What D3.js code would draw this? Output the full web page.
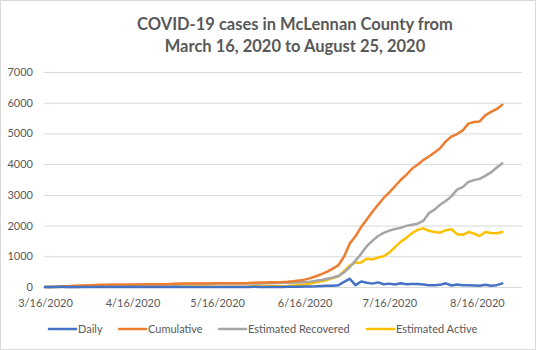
<!DOCTYPE html>
<html>
<head>
<meta charset="utf-8">
<script src="https://cdn.jsdelivr.net/npm/d3@7"></script>
<style>
  body { margin: 0; background: #fff; }
  .axis text { font-family: Lato, "Open Sans", sans-serif; font-size: 11px; fill: #595959; }
  .legend text { font-family: Lato, "Open Sans", sans-serif; font-size: 11px; fill: #595959; }
  .title { font-family: Lato, "Open Sans", sans-serif; font-weight: bold; font-size: 16.5px; fill: #595959; }
</style>
</head>
<body>
<div id="chart"></div>
<script>
// dates (every second day, 2020)
const dates = ["3/16","3/18","3/20","3/22","3/24","3/26","3/28","3/30","4/1","4/3","4/5","4/7","4/9","4/11","4/13","4/15",
  "4/17","4/19","4/21","4/23","4/25","4/27","4/29","5/1","5/3","5/5","5/7","5/9","5/11","5/13","5/15","5/17","5/19","5/21",
  "5/23","5/25","5/27","5/29","5/31","6/2","6/4","6/6","6/8","6/10","6/12","6/14","6/16","6/18","6/20","6/22","6/24","6/26",
  "6/28","6/30","7/2","7/4","7/6","7/8","7/10","7/12","7/14","7/16","7/18","7/20","7/22","7/24","7/26","7/28","7/30","8/1",
  "8/3","8/5","8/7","8/9","8/11","8/13","8/15","8/17","8/19","8/21","8/23","8/25"];

const daily = [0,2,4,5,4,3,4,3,4,3,4,2,1,1,1,1,
  0,1,0,1,1,1,2,5,2,1,1,1,1,0,0,1,0,1,
  1,1,2,5,3,1,1,2,3,6,10,12,14,20,25,35,40,40,
  60,170,270,60,180,140,110,150,90,110,80,120,90,100,100,80,60,60,
  70,120,50,80,60,60,50,40,70,40,60,120];

const cumulative = [0,3,10,20,28,35,42,48,55,62,70,75,78,80,82,83,
  84,85,86,88,90,92,95,105,110,112,114,116,118,118,119,120,121,122,
  124,126,130,140,148,150,152,155,160,170,190,215,240,290,350,420,500,600,
  710,1000,1420,1650,1950,2200,2450,2680,2900,3080,3280,3485,3650,3850,3980,4130,4250,4380,
  4520,4740,4900,4980,5100,5320,5370,5390,5590,5700,5790,5930];

const recovered = [0,0,0,0,0,0,2,5,10,15,22,30,40,50,58,65,
  72,75,78,80,82,84,86,88,92,96,100,102,104,106,108,110,111,112,
  113,114,115,116,118,122,126,130,135,140,145,150,160,175,200,230,270,310,
  360,480,650,860,1080,1330,1500,1660,1760,1835,1890,1925,1990,2030,2060,2150,2400,2520,
  2680,2800,2950,3170,3250,3420,3480,3520,3620,3730,3880,4029];

const active = [0,3,10,20,28,35,40,43,45,47,48,45,38,30,24,18,
  12,10,8,8,8,8,9,17,18,16,14,14,14,12,11,10,10,10,
  11,12,15,24,30,28,26,25,25,30,45,65,80,115,150,190,230,290,
  350,520,700,790,800,920,900,960,1000,1120,1300,1470,1600,1750,1860,1910,1830,1790,
  1770,1850,1880,1720,1700,1790,1740,1660,1790,1760,1750,1790];

const yTicks = [0, 1000, 2000, 3000, 4000, 5000, 6000, 7000];
const xTickLabels = ["3/16/2020", "4/16/2020", "5/16/2020", "6/16/2020", "7/16/2020", "8/16/2020"];

const seriesNames = ["Daily", "Cumulative", "Estimated Recovered", "Estimated Active"];
const seriesValues = [daily, cumulative, recovered, active];
const seriesColors = ["#4472C4", "#ED7D31", "#A5A5A5", "#FFC000"];

class LineChart {
    constructor(_config, _data) {
        this.config = {
            parentElement: _config.parentElement,
            containerWidth: 536,
            containerHeight: 350,
            margin: { top: 72, right: 14, bottom: 63, left: 44 }
        }
        this.data = _data;
        this.initVis();
    }

    initVis() {
        let vis = this;

        vis.width = vis.config.containerWidth - vis.config.margin.left - vis.config.margin.right;
        vis.height = vis.config.containerHeight - vis.config.margin.top - vis.config.margin.bottom;

        const parse = d3.timeParse("%m/%d/%Y");

        vis.xScale = d3.scaleTime()
            .domain([parse("3/16/2020"), parse("9/1/2020")])
            .range([1, vis.width]);

        vis.yScale = d3.scaleLinear()
            .domain([0, 7000])
            .range([vis.height, 0]);

        vis.xAxis = d3.axisBottom(vis.xScale)
            .tickValues(xTickLabels.map(parse))
            .tickFormat(d3.timeFormat("%-m/%-d/%Y"))
            .tickSize(0)
            .tickPadding(12);

        vis.yAxis = d3.axisLeft(vis.yScale)
            .tickValues(yTicks)
            .tickFormat(d3.format("d"))
            .tickSize(-vis.width)
            .tickPadding(11);

        vis.svg = d3.select(vis.config.parentElement).append('svg')
            .attr('width', vis.config.containerWidth)
            .attr('height', vis.config.containerHeight);

        vis.svg.append('rect')
            .attr('x', 0.5).attr('y', 0.5)
            .attr('width', vis.config.containerWidth - 1)
            .attr('height', vis.config.containerHeight - 1)
            .attr('fill', '#fff')
            .attr('stroke', '#d9d9d9');

        // title, two lines
        const title = vis.svg.append('text')
            .attr('class', 'title')
            .attr('text-anchor', 'middle');
        title.append('tspan').attr('x', 295).attr('y', 30).text('COVID-19 cases in McLennan County from');
        title.append('tspan').attr('x', 295).attr('y', 52).text('March 16, 2020 to August 25, 2020');

        vis.chartArea = vis.svg.append('g')
            .attr('transform', `translate(${vis.config.margin.left},${vis.config.margin.top})`);

        vis.yAxisG = vis.chartArea.append('g').attr('class', 'axis y-axis');
        vis.xAxisG = vis.chartArea.append('g')
            .attr('class', 'axis x-axis')
            .attr('transform', `translate(0,${vis.height})`);
        vis.chart = vis.chartArea.append('g');

        vis.legend = vis.svg.append('g').attr('class', 'legend');

        vis.updateVis();
    }

    updateVis() {
        let vis = this;
        const parse = d3.timeParse("%m/%d/%Y");
        vis.series = seriesNames.map((name, i) => ({
            name: name,
            color: seriesColors[i],
            values: dates.map((d, j) => ({ date: parse(d + "/2020"), value: seriesValues[i][j] }))
        }));
        vis.line = d3.line()
            .x(d => vis.xScale(d.date))
            .y(d => vis.yScale(d.value));
        vis.renderVis();
    }

    renderVis() {
        let vis = this;

        vis.yAxisG.call(vis.yAxis).call(g => g.select(".domain").remove());
        vis.yAxisG.selectAll(".tick line").attr('stroke', '#d9d9d9');

        vis.xAxisG.call(vis.xAxis).call(g => g.select(".domain").remove());

        // draw in reverse so Daily sits on top, like Excel
        vis.chart.selectAll('.series')
            .data(vis.series.slice().reverse())
            .join('path')
            .attr('class', 'series')
            .attr('fill', 'none')
            .attr('stroke', d => d.color)
            .attr('stroke-width', 2.5)
            .attr('stroke-linejoin', 'round')
            .attr('stroke-linecap', 'round')
            .attr('d', d => vis.line(d.values));

        const legendX = [49, 119, 219, 367];
        const item = vis.legend.selectAll('.item')
            .data(vis.series)
            .join('g')
            .attr('class', 'item')
            .attr('transform', (d, i) => `translate(${legendX[i]},329)`);
        item.append('line')
            .attr('x1', 0).attr('x2', 27)
            .attr('stroke', d => d.color)
            .attr('stroke-width', 2.5)
            .attr('stroke-linecap', 'round');
        item.append('text')
            .attr('x', 29)
            .attr('dy', '0.35em')
            .text(d => d.name);
    }
}

new LineChart({ parentElement: '#chart' }, seriesValues);
</script>
</body>
</html>
